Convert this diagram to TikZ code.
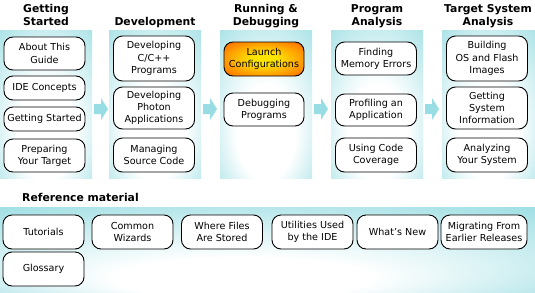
\documentclass[tikz,border=0pt]{standalone}
\usepackage{fontspec}
\setmainfont{DejaVu Sans}
\usetikzlibrary{positioning}
\definecolor{panelcyan}{HTML}{8ED9DF}
\definecolor{arrowcyan}{HTML}{97DDE3}
\definecolor{hotyellow}{HTML}{FFE400}
\definecolor{hotorange}{HTML}{FF5A00}
\newcommand{\boxfont}{\fontsize{9.6}{12.2}\selectfont}
\newcommand{\headfont}{\fontsize{10.8}{13}\selectfont\bfseries}
\pgfdeclareradialshading{colshade}{\pgfpoint{0bp}{-14bp}}{color(0bp)=(white); color(16bp)=(white); color(46bp)=(panelcyan); color(50bp)=(panelcyan)}
\pgfdeclareradialshading{refshade}{\pgfpoint{-3bp}{-22bp}}{color(0bp)=(white); color(12bp)=(white); color(44bp)=(panelcyan); color(50bp)=(panelcyan)}
\pgfdeclareradialshading{launchshade}{\pgfpoint{0bp}{0bp}}{color(0bp)=(hotyellow); color(8bp)=(hotyellow); color(38bp)=(hotorange); color(50bp)=(hotorange)}
\tikzset{
  topicbox/.style={draw=black, line width=0.9pt, fill=white, rounded corners=9pt,
                   inner sep=1pt, align=center, font=\boxfont, minimum width=81pt},
  hotbox/.style={topicbox, shading=launchshade},
  colhead/.style={font=\headfont, align=center, anchor=south, inner sep=0pt},
  stagearrow/.style={fill=arrowcyan, draw=none}}

\begin{document}
\begin{tikzpicture}[x=1pt, y=-1pt]
  \useasboundingbox (0,0) rectangle (535,292);
  % column panels
  \shade[shading=colshade] (0,30) rectangle (92,178);
  \shade[shading=colshade] (109,30) rectangle (201,178);
  \shade[shading=colshade] (220,30) rectangle (312,178);
  \shade[shading=colshade] (331,30) rectangle (423,178);
  \shade[shading=colshade] (442,30) rectangle (535,178);
  \shade[shading=refshade] (0,207) rectangle (535,292);
  % arrows between the stages
  \foreach \ax in {94,203,314,425}
    \fill[stagearrow] (\ax,104) -- ++(7,0) -- ++(0,-6) -- ++(7,11)
      -- ++(-7,11) -- ++(0,-6) -- ++(-7,0) -- cycle;

  % headings
  \node[colhead] (hstart) at (46,30) {Getting\\Started\strut};
  \node[colhead] (hdev) at (155,30) {Development\strut};
  \node[colhead] (hrun) at (266,30) {Running \&\\Debugging\strut};
  \node[colhead] (hprog) at (377,30) {Program\\Analysis\strut};
  \node[colhead] (htarget) at (488,30) {Target System\\Analysis\strut};

  % getting started
  \node[topicbox, minimum height=33pt] (about) at (44.5,53.5) {About This\\Guide};
  \node[topicbox, minimum height=24pt] (ideconc) at (44.5,88) {IDE Concepts};
  \node[topicbox, minimum height=24pt] (getstart) at (44.5,119) {Getting Started};
  \node[topicbox, minimum height=33pt] (preptarget) at (44.5,155.5) {Preparing\\Your Target};
  % development
  \node[topicbox, minimum height=45pt] (devc) at (154,58.5) {Developing\\C/C++\\Programs};
  \node[topicbox, minimum height=42pt] (devphoton) at (154,108) {Developing\\Photon\\Applications};
  \node[topicbox, minimum height=34pt] (managesrc) at (154,155) {Managing\\Source Code};
  % running and debugging
  \node[hotbox, minimum height=34pt, minimum width=80pt] (launch) at (264,59) {Launch\\Configurations};
  \node[topicbox, minimum height=33pt, minimum width=80pt] (debug) at (264,109.5) {Debugging\\Programs};
  % program analysis
  \node[topicbox, minimum height=33pt] (memerr) at (376,58.5) {Finding\\Memory Errors};
  \node[topicbox, minimum height=32pt] (profile) at (376,110) {Profiling an\\Application};
  \node[topicbox, minimum height=34pt] (coverage) at (376,155) {Using Code\\Coverage};
  % target system analysis
  \node[topicbox, minimum height=45pt] (buildos) at (487,58.5) {Building\\OS and Flash\\Images};
  \node[topicbox, minimum height=42pt] (sysinfo) at (487,108) {Getting\\System\\Information};
  \node[topicbox, minimum height=34pt] (analyze) at (487,155) {Analyzing\\Your System};

  % reference material
  \node[font=\headfont, anchor=base west, inner sep=0pt] (hrefmat) at (22,201) {Reference material};
  \node[topicbox, minimum height=34pt] (tutorials) at (43.5,232) {Tutorials};
  \node[topicbox, minimum height=34pt] (wizards) at (132.5,232) {Common\\Wizards};
  \node[topicbox, minimum height=34pt] (files) at (222,232) {Where Files\\Are Stored};
  \node[topicbox, minimum height=34pt] (utilities) at (312.5,232) {Utilities Used\\by the IDE};
  \node[topicbox, minimum height=34pt] (whatsnew) at (397.5,232) {What's New};
  \node[topicbox, minimum height=34pt, minimum width=86pt] (migrating) at (484,232) {Migrating From\\Earlier Releases};
  \node[topicbox, minimum height=34pt] (glossary) at (43.5,269) {Glossary};
\end{tikzpicture}
\end{document}
